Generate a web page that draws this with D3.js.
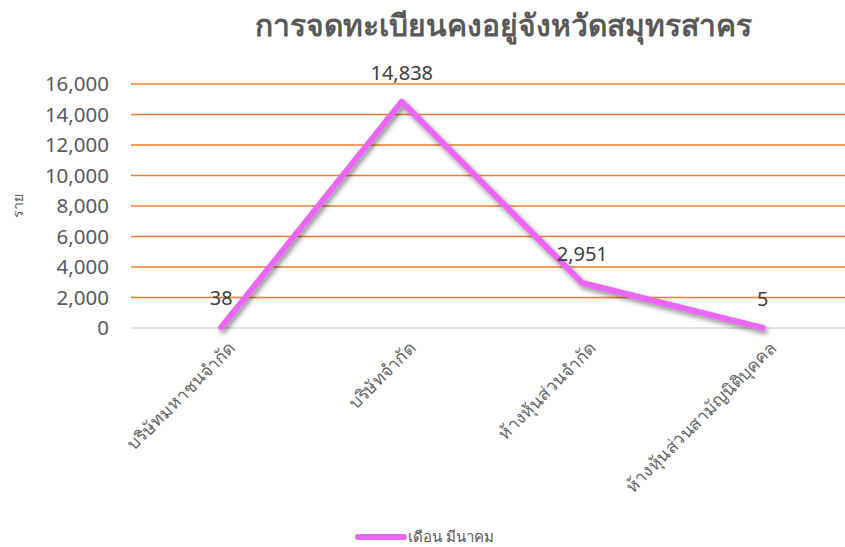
<!DOCTYPE html>
<html>
<head>
<meta charset="utf-8">
<script src="https://cdn.jsdelivr.net/npm/d3@7"></script>
<style>
body { margin: 0; background: #fff; }
text { font-family: "Noto Sans", "Open Sans", sans-serif; }
</style>
</head>
<body>
<div id="chart"></div>
<script>
var categories = ["บริษัทมหาชนจำกัด", "บริษัทจำกัด", "ห้างหุ้นส่วนจำกัด", "ห้างหุ้นส่วนสามัญนิติบุคคล"];
var values = [38, 14838, 2951, 5];
var yTicks = [0, 2000, 4000, 6000, 8000, 10000, 12000, 14000, 16000];
var seriesName = "เดือน มีนาคม";
var chartTitle = "การจดทะเบียนคงอยู่จังหวัดสมุทรสาคร";
var yTitle = "ราย";

var W = 845, H = 547;
var svg = d3.select("#chart").append("svg")
	.attr("width", W)
	.attr("height", H);

var defs = svg.append("defs");
var f = defs.append("filter").attr("id", "shadow")
	.attr("x", "-10%").attr("y", "-10%").attr("width", "130%").attr("height", "130%");
f.append("feDropShadow")
	.attr("dx", 2).attr("dy", 3).attr("stdDeviation", 2.5)
	.attr("flood-color", "#000").attr("flood-opacity", 0.45);

var x = d3.scaleBand()
	.domain(categories)
	.range([131, 853]);

var y = d3.scaleLinear()
	.domain([0, 16000])
	.range([328, 84]);

// grid lines
svg.selectAll(".grid")
	.data(yTicks.filter(function(d){ return d > 0; }))
	.enter()
	.append("line")
	.attr("class", "grid")
	.attr("x1", 131)
	.attr("x2", W)
	.attr("y1", function(d){ return y(d); })
	.attr("y2", function(d){ return y(d); })
	.attr("stroke", "#ED7D31")
	.attr("stroke-width", 1.6);

svg.append("line")
	.attr("x1", 131).attr("x2", W)
	.attr("y1", y(0)).attr("y2", y(0))
	.attr("stroke", "#d9d9d9")
	.attr("stroke-width", 1.5);

// y axis
var yAxis = d3.axisLeft(y)
	.tickValues(yTicks)
	.tickSize(0)
	.tickPadding(22)
	.tickFormat(d3.format(","));

var gy = svg.append("g")
	.attr("transform", "translate(131,0)")
	.call(yAxis);
gy.select(".domain").remove();
gy.selectAll("text")
	.attr("fill", "#595959")
	.style("font-size", "20.5px");

// x axis labels
var xAxis = d3.axisBottom(x).tickSize(0).tickPadding(0);
var gx = svg.append("g")
	.attr("transform", "translate(0," + y(0) + ")")
	.call(xAxis);
gx.select(".domain").remove();
gx.selectAll("text")
	.attr("fill", "#666")
	.style("font-size", "17.5px")
	.style("font-weight", "300")
	.attr("text-anchor", "end")
	.attr("dy", 0)
	.attr("transform", "translate(15,21) rotate(-45)");

// line
var line = d3.line()
	.x(function(d, i){ return x(categories[i]) + x.bandwidth() / 2; })
	.y(function(d){ return y(d); });

svg.append("path")
	.datum(values)
	.attr("d", line)
	.attr("fill", "none")
	.attr("stroke", "#EA66F5")
	.attr("stroke-width", 6)
	.attr("stroke-linecap", "round")
	.attr("stroke-linejoin", "round")
	.attr("filter", "url(#shadow)");

// data labels
svg.selectAll(".lbl")
	.data(values)
	.enter()
	.append("text")
	.attr("class", "lbl")
	.attr("x", function(d, i){ return x(categories[i]) + x.bandwidth() / 2; })
	.attr("y", function(d){ return y(d) - 22; })
	.attr("text-anchor", "middle")
	.attr("fill", "#404040")
	.style("font-size", "20px")
	.text(function(d){ return d3.format(",")(d); });

// title
svg.append("text")
	.attr("x", 503)
	.attr("y", 36)
	.attr("text-anchor", "middle")
	.attr("fill", "#595959")
	.style("font-size", "30px")
	.style("font-weight", "bold")
	.text(chartTitle);

// y title
svg.append("text")
	.attr("transform", "translate(23,206) rotate(-90)")
	.attr("text-anchor", "middle")
	.attr("fill", "#595959")
	.style("font-size", "14px")
	.text(yTitle);

// legend
svg.append("line")
	.attr("x1", 358).attr("x2", 404)
	.attr("y1", 537).attr("y2", 537)
	.attr("stroke", "#EA66F5")
	.attr("stroke-width", 6)
	.attr("stroke-linecap", "round");
svg.append("text")
	.attr("x", 408)
	.attr("y", 542)
	.attr("fill", "#595959")
	.style("font-size", "15px")
	.text(seriesName);
</script>
</body>
</html>
